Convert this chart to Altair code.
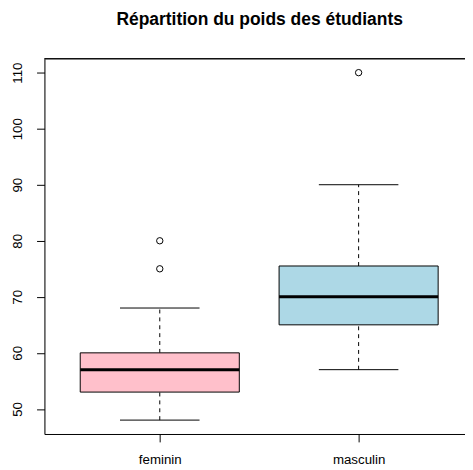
import altair as alt
import pandas as pd

# ---- data ----
categories = ["feminin", "masculin"]
whisker_low = [48, 57]
q1 = [53, 65]
median = [57, 70]
q3 = [60, 75.5]
whisker_high = [68, 90]
fill_colors = ["pink", "lightblue"]

outlier_cat = ["feminin", "feminin", "masculin"]
outlier_val = [75, 80, 110]

title_text = "Répartition du poids des étudiants"
y_ticks = [50, 60, 70, 80, 90, 100, 110]

# ---- tables ----
stats = pd.DataFrame({
    "cat": categories,
    "pos": [i + 1 for i in range(len(categories))],
    "lo": whisker_low,
    "q1": q1,
    "med": median,
    "q3": q3,
    "hi": whisker_high,
})
outs = pd.DataFrame({
    "cat": outlier_cat,
    "pos": [categories.index(c) + 1 for c in outlier_cat],
    "val": outlier_val,
})

W, H = 427, 381
FONT = "Liberation Sans"

label_expr = " : ".join(
    f"datum.value == {i + 1} ? '{c}'" for i, c in enumerate(categories)
) + " : ''"

xscale = alt.Scale(domain=[0.42, 2.535], nice=False, zero=False)
yscale = alt.Scale(domain=[45.52, 112.48], nice=False, zero=False)

xaxis = alt.Axis(values=[1, 2], labelExpr=label_expr, title=None, grid=False,
                 tickSize=8, tickColor="black", domainColor="black",
                 labelFont=FONT, labelFontSize=13.5, labelColor="black",
                 labelPadding=11, labelBaseline="top", labelAngle=0)
yaxis = alt.Axis(values=y_ticks, title=None, grid=False,
                 tickSize=8, tickColor="black", domainColor="black",
                 labelFont=FONT, labelFontSize=13.5, labelColor="black",
                 labelAngle=-90, labelAlign="center", labelBaseline="alphabetic",
                 labelPadding=15)


def X(field):
    return alt.X(field, type="quantitative", scale=xscale, axis=xaxis)


def Y(field):
    return alt.Y(field, type="quantitative", scale=yscale, axis=yaxis)


base = alt.Chart(stats).transform_calculate(
    left="datum.pos - 0.4",
    right="datum.pos + 0.4",
    capl="datum.pos - 0.2",
    capr="datum.pos + 0.2",
)

whisk_up = base.mark_rule(color="black", strokeWidth=1, strokeDash=[4, 4]).encode(
    x=X("pos"), y=Y("q3"), y2="hi"
)
whisk_dn = base.mark_rule(color="black", strokeWidth=1, strokeDash=[4, 4]).encode(
    x=X("pos"), y=Y("lo"), y2="q1"
)
cap_hi = base.mark_rule(color="black", strokeWidth=1).encode(
    x=X("capl"), x2="capr", y=Y("hi")
)
cap_lo = base.mark_rule(color="black", strokeWidth=1).encode(
    x=X("capl"), x2="capr", y=Y("lo")
)
box = base.mark_rect(stroke="black", strokeWidth=1).encode(
    x=X("left"), x2="right", y=Y("q1"), y2="q3",
    fill=alt.Fill("cat:N", scale=alt.Scale(domain=categories, range=fill_colors), legend=None),
)
med = base.mark_rule(color="black", strokeWidth=3).encode(
    x=X("left"), x2="right", y=Y("med")
)
pts = alt.Chart(outs).mark_point(shape="circle", filled=False, color="black",
                                  strokeWidth=1, size=42, opacity=1).encode(
    x=X("pos"), y=Y("val")
)
top_line = alt.Chart(stats).mark_rule(color="black", strokeWidth=1).encode(
    x=alt.value(0), x2=alt.value(W), y=alt.value(0)
)

chart = alt.layer(whisk_up, whisk_dn, cap_hi, cap_lo, box, med, pts, top_line).properties(
    width=W, height=H,
    title=alt.TitleParams(title_text, font=FONT, fontSize=17.7, fontWeight="bold",
                          color="black", anchor="middle", dx=5, offset=16,
                          baseline="alphabetic", frame="group"),
    padding={"left": 37, "top": 48, "right": 0, "bottom": 32},
    autosize=alt.AutoSizeParams(type="none"),
).configure_view(stroke=None).configure(background="white")

chart.save("out.html", embed_options={"renderer": "svg", "actions": False})
